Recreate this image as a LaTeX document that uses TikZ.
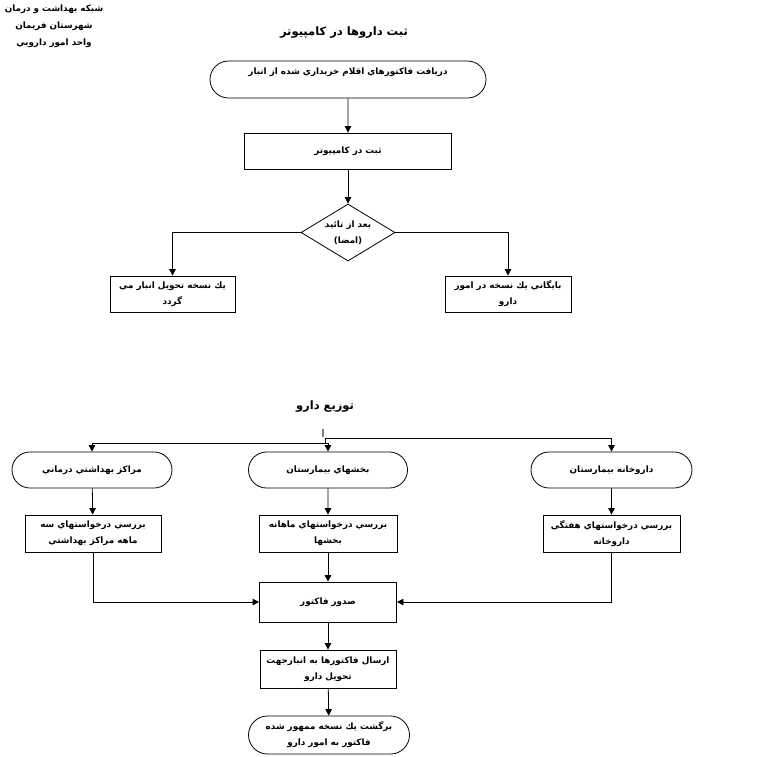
\documentclass[tikz,border=0pt]{standalone}
\usepackage{fontspec}
\newfontfamily\arabicfont[Script=Arabic]{DejaVu Sans}
\TeXXeTstate=1
\usetikzlibrary{arrows.meta,shapes.geometric,shapes.misc}
\definecolor{FlowInk}{HTML}{000000}
\definecolor{FlowMark}{HTML}{7F7F7F}
\definecolor{FlowPaper}{HTML}{FFFFFF}
\newcommand{\fa}[1]{\beginR #1\endR}
\tikzset{
  every node/.style={font=\arabicfont\bfseries\fontsize{8.8}{16}\selectfont, text=FlowInk, align=center, inner sep=0pt},
  heading/.style={font=\arabicfont\bfseries\fontsize{11.5}{17}\selectfont},
  process/.style={draw=FlowInk, line width=0.8pt, fill=FlowPaper, rectangle},
  terminal/.style={draw=FlowInk, line width=0.8pt, fill=FlowPaper, rounded rectangle},
  decision/.style={draw=FlowInk, line width=0.8pt, fill=FlowPaper, diamond, aspect=1.65, inner xsep=-8pt, inner ysep=-4pt},
  link/.style={draw=FlowInk, line width=0.8pt},
  flow/.style={-{Triangle[length=6.5pt,width=6.5pt]}, draw=FlowInk, line width=0.8pt},
}

\begin{document}
\begin{tikzpicture}[x=1pt, y=-1pt]
  \useasboundingbox (0,0) rectangle (778,756);
  % Unit
  \node[font=\arabicfont\bfseries\fontsize{8.8}{17}\selectfont] (unit) at (54,26)
    {\fa{شبکه بهداشت و درمان}\\\fa{شهرستان فريمان}\\\fa{واحد امور دارويي}};
  % Part one: registering drugs
  \node[heading] (titleA) at (344,33) {\fa{ثبت داروها در کامپيوتر}};
  \node[terminal, minimum width=276, minimum height=37] (receive) at (348,79.5)
    {\fa{دريافت فاكتورهاي اقلام خريداري شده از انبار}\\\mbox{}};
  \node[process, minimum width=207, minimum height=36] (enter) at (348,151)
    {\fa{ثبت در کامپيوتر}};
  \node[decision, minimum width=94, minimum height=57] (approve) at (348,232.5)
    {\fa{بعد از تائيد}\\\fa{(امضا)}};
  \node[process, minimum width=125, minimum height=36] (store) at (172.5,294)
    {\fa{يك نسخه تحويل انبار مي}\\\fa{گردد}};
  \node[process, minimum width=126, minimum height=36] (archive) at (508,294)
    {\fa{بايگاني يك نسخه در امور}\\\fa{دارو}};
  \draw[flow] (receive) -- (enter);
  \draw[flow] (enter) -- (approve);
  \draw[flow] (approve.west) -| (store);
  \draw[flow] (approve.east) -| (archive);
  % Part two: distributing drugs
  \node[heading] (titleB) at (325,407) {\fa{توزيع دارو}};
  \coordinate (split) at (325,438);
  \node[terminal, minimum width=160, minimum height=36] (centres) at (92,470)
    {\fa{مراكز بهداشتي درماني}};
  \node[terminal, minimum width=159, minimum height=36] (wards) at (328,470)
    {\fa{بخشهاي بيمارستان}};
  \node[terminal, minimum width=161, minimum height=36] (pharmacy) at (611.5,470)
    {\fa{داروخانه بيمارستان}};
  \node[process, minimum width=136, minimum height=37] (reviewC) at (93,533.5)
    {\fa{بررسي درخواستهاي سه}\\\fa{ماهه مراكز بهداشتي}};
  \node[process, minimum width=138, minimum height=37] (reviewW) at (328,533.5)
    {\fa{بررسي درخواستهاي ماهانه}\\\fa{بخشها}};
  \node[process, minimum width=137, minimum height=37] (reviewP) at (611.5,533.5)
    {\fa{بررسي درخواستهاي هفتگي}\\\fa{داروخانه}};
  \node[process, minimum width=137, minimum height=40] (invoice) at (328,602)
    {\fa{صدور فاكتور}};
  \node[process, minimum width=136, minimum height=38] (send) at (328,669)
    {\fa{ارسال فاكتورها به انبارجهت}\\\fa{تحويل دارو}};
  \node[terminal, minimum width=161, minimum height=38] (back) at (329,735)
    {\fa{برگشت يك نسخه ممهور شده}\\\fa{فاكتور به امور دارو}};
  \draw[FlowMark, line width=2pt] (split) ++(-2,-9) -- ++(0,8);
  \draw[link] (split) -- ++(0,5) coordinate (splitlow);
  \draw[flow] (splitlow) -| (centres);
  \draw[flow] (splitlow) -| (wards);
  \draw[flow] (split) -| (pharmacy);
  \draw[flow] (centres) -- (reviewC);
  \draw[flow] (wards) -- (reviewW);
  \draw[flow] (pharmacy) -- (reviewP);
  \draw[flow] (reviewC) |- (invoice);
  \draw[flow] (reviewW) -- (invoice);
  \draw[flow] (reviewP) |- (invoice);
  \draw[flow] (invoice) -- (send);
  \draw[flow] (send) -- (back);
\end{tikzpicture}
\end{document}
